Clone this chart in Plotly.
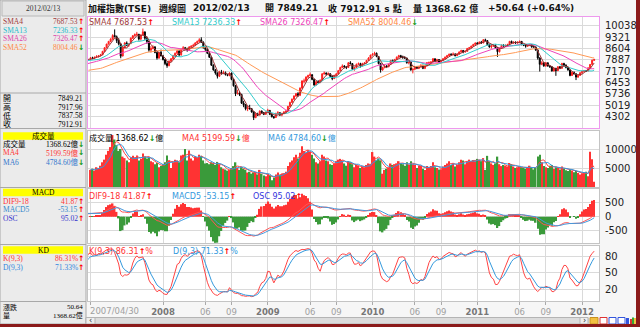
import numpy as np
import pandas as pd
import plotly.graph_objects as go

W, H = 640, 327

# ---------------- data (weekly TAIEX, 2007/04/30 .. 2012/02/13) ----------------
# 52 hidden warm-up weekly closes (2006/05/01 .. 2007/04/23) for the moving averages
prior_closes = [7300, 7450, 7100, 6900, 6850, 6750, 6400, 6500, 6700, 6850,
                6600, 6350, 6450, 6400, 6500, 6700, 6650, 6650, 6750, 6800,
                6850, 6900, 6950, 7000, 7050, 7200, 7250, 7250, 7150, 7200,
                7250, 7400, 7550, 7700, 7820, 7800, 7700, 7800, 7750, 7800,
                7900, 7950, 7900, 7500, 7550, 7700, 7750, 7900, 7950, 7900,
                7850, 7950]

opens = [7950, 8020, 7975, 8055, 8110, 8150, 8200, 8420, 8650, 8885,
         9050, 9195, 9425, 9340, 9100, 8890, 8130, 8650, 8950, 8800,
         8905, 9250, 9400, 9480, 9500, 9200, 9455, 9650, 9250, 9050,
         8500, 8600, 8700, 8350, 8000, 8360, 8130, 7900, 7650, 7520,
         7800, 7950, 8150, 8300, 8450, 8200, 8550, 8650, 8600, 8500,
         8700, 8750, 8800, 8950, 9050, 9150, 9000, 8650, 8550, 8300,
         8050, 7550, 7250, 7050, 6850, 7100, 7050, 7080, 6950, 6900,
         7050, 6650, 6250, 5750, 5800, 5700, 5150, 5050, 4800, 4850,
         4800, 4600, 4250, 4460, 4400, 4650, 4550, 4450, 4590, 4700,
         4450, 4300, 4250, 4500, 4550, 4400, 4500, 4600, 4650, 4950,
         5200, 5400, 5600, 5750, 5650, 6100, 6540, 6550, 6800, 6900,
         6950, 6650, 6300, 6500, 6450, 6600, 7000, 7050, 6980, 7000,
         6850, 6700, 6900, 7000, 7200, 7400, 7500, 7450, 7400, 7700,
         7650, 7300, 7400, 7600, 7650, 7500, 7650, 7700, 7850, 8000,
         8190, 8250, 8300, 8100, 7650, 7250, 7400, 7500, 7450, 7600,
         7850, 7800, 7900, 8050, 8150, 8060, 8050, 8000, 7700, 7750,
         7250, 7300, 7450, 7350, 7450, 7550, 7350, 7500, 7690, 7700,
         7750, 7950, 7800, 7900, 7750, 7850, 7950, 8050, 8150, 8240,
         8200, 8250, 8150, 8250, 8380, 8480, 8400, 8420, 8600, 8650,
         8750, 8850, 8950, 8900, 9000, 8950, 9150, 9100, 8850, 8700,
         8750, 8800, 8650, 8400, 8600, 8800, 8750, 8800, 8850, 9050,
         8950, 9000, 8950, 9000, 9050, 8850, 8800, 8750, 8800, 8850,
         8720, 8700, 8500, 8000, 7600, 7700, 7500, 7700, 7500, 7450,
         7180, 7350, 7200, 7450, 7350, 7650, 7550, 7400, 7250, 6900,
         7100, 7000, 6800, 6900, 7070, 7150, 7200, 7180, 7380, 7595,
         7849.21]

highs = [8060, 8080, 8090, 8170, 8180, 8260, 8450, 8680, 8900, 9080,
         9250, 9500, 9807, 9420, 9250, 8950, 8700, 9000, 9050, 8950,
         9300, 9450, 9550, 9650, 9520, 9500, 9859, 9660, 9350, 9100,
         8750, 8800, 8750, 8400, 8400, 8530, 8200, 7950, 7800, 7850,
         8000, 8200, 8350, 8500, 8480, 8600, 8750, 8700, 8650, 8750,
         8800, 8900, 9000, 9100, 9250, 9309, 9050, 8700, 8600, 8350,
         8100, 7600, 7300, 7100, 7200, 7250, 7200, 7150, 7000, 7100,
         7080, 6700, 6300, 6000, 5900, 5750, 5300, 5100, 5000, 5050,
         4850, 4650, 4550, 4550, 4700, 4700, 4600, 4620, 4800, 4720,
         4500, 4350, 4550, 4650, 4580, 4550, 4650, 4700, 4980, 5250,
         5450, 5650, 5800, 5850, 6150, 6600, 6700, 6850, 6950, 7084,
         6970, 6700, 6550, 6600, 6650, 7050, 7150, 7100, 7100, 7050,
         6900, 6950, 7050, 7250, 7450, 7600, 7550, 7500, 7750, 7800,
         7680, 7450, 7650, 7720, 7700, 7700, 7750, 7880, 8050, 8200,
         8300, 8395, 8350, 8120, 7700, 7450, 7550, 7550, 7650, 7880,
         7900, 7950, 8100, 8200, 8200, 8150, 8100, 8020, 7850, 7760,
         7350, 7500, 7480, 7500, 7600, 7570, 7550, 7750, 7780, 7800,
         8000, 7980, 7950, 7920, 7900, 8000, 8100, 8200, 8280, 8300,
         8350, 8300, 8300, 8420, 8520, 8500, 8480, 8640, 8700, 8780,
         8900, 8980, 9000, 9050, 9080, 9200, 9220, 9120, 8900, 8850,
         8880, 8850, 8700, 8650, 8850, 8870, 8850, 8900, 9080, 9100,
         9050, 9050, 9050, 9100, 9070, 8900, 8850, 8850, 8900, 8870,
         8780, 8720, 8550, 8050, 7800, 7750, 7750, 7720, 7550, 7480,
         7400, 7380, 7480, 7500, 7700, 7700, 7600, 7450, 7280, 7150,
         7150, 7050, 6950, 7100, 7200, 7250, 7250, 7400, 7620, 7900,
         7917.96]

lows = [7900, 7940, 7950, 8020, 8030, 8100, 8180, 8400, 8620, 8850,
        9000, 9150, 9300, 8950, 8800, 7987, 8100, 8600, 8750, 8700,
        8880, 9200, 9350, 9400, 9100, 9100, 9420, 9150, 8900, 8400,
        8350, 8550, 8300, 7900, 7950, 8100, 7850, 7550, 7384, 7480,
        7750, 7900, 8100, 8250, 8100, 8150, 8500, 8500, 8400, 8450,
        8600, 8700, 8750, 8900, 9000, 8950, 8600, 8450, 8250, 8000,
        7500, 7200, 6950, 6708, 6800, 6950, 6980, 6900, 6850, 6850,
        6600, 6200, 5600, 5700, 5600, 5100, 4900, 4700, 4650, 4750,
        4550, 4089, 4200, 4350, 4380, 4500, 4400, 4420, 4580, 4400,
        4250, 4164, 4240, 4450, 4350, 4328, 4450, 4500, 4640, 4920,
        5180, 5380, 5550, 5550, 5600, 6080, 6400, 6500, 6700, 6850,
        6600, 6250, 6280, 6400, 6420, 6580, 6950, 6900, 6900, 6800,
        6600, 6680, 6850, 6980, 7180, 7380, 7350, 7300, 7380, 7600,
        7250, 7200, 7380, 7550, 7400, 7480, 7600, 7680, 7830, 7980,
        8150, 8200, 8050, 7600, 7080, 7200, 7350, 7400, 7420, 7580,
        7750, 7750, 7880, 8020, 8000, 7950, 7950, 7650, 7600, 7200,
        7032, 7250, 7300, 7300, 7420, 7300, 7300, 7480, 7600, 7650,
        7720, 7750, 7750, 7700, 7700, 7820, 7920, 8020, 8120, 8150,
        8180, 8100, 8120, 8220, 8350, 8300, 8330, 8400, 8560, 8620,
        8700, 8820, 8850, 8880, 8900, 8930, 9050, 8800, 8650, 8600,
        8700, 8600, 8070, 8350, 8580, 8700, 8700, 8750, 8830, 8900,
        8900, 8900, 8900, 8950, 8800, 8750, 8650, 8700, 8750, 8650,
        8650, 8450, 7900, 7148, 7550, 7450, 7450, 7450, 7380, 7150,
        7150, 6877, 7180, 7300, 7330, 7500, 7350, 7200, 6850, 6880,
        6950, 6609, 6750, 6880, 7000, 7100, 7120, 7170, 7360, 7580,
        7837.58]

closes = [8015, 7980, 8050, 8110, 8145, 8200, 8420, 8650, 8880, 9050,
          9190, 9420, 9350, 9100, 8900, 8120, 8650, 8950, 8800, 8900,
          9250, 9400, 9480, 9500, 9200, 9450, 9650, 9250, 9050, 8500,
          8600, 8700, 8350, 8000, 8350, 8130, 7900, 7650, 7520, 7800,
          7950, 8150, 8300, 8450, 8200, 8550, 8650, 8600, 8500, 8700,
          8750, 8800, 8950, 9050, 9150, 9000, 8650, 8550, 8300, 8050,
          7550, 7250, 7050, 6850, 7100, 7050, 7080, 6950, 6900, 7050,
          6650, 6250, 5750, 5800, 5700, 5150, 5050, 4800, 4850, 4800,
          4600, 4250, 4460, 4400, 4650, 4550, 4450, 4590, 4700, 4450,
          4300, 4250, 4500, 4550, 4400, 4500, 4600, 4650, 4950, 5200,
          5400, 5600, 5750, 5650, 6100, 6550, 6550, 6800, 6900, 6950,
          6650, 6300, 6500, 6450, 6600, 7000, 7050, 7000, 7000, 6850,
          6700, 6900, 7000, 7200, 7400, 7500, 7450, 7400, 7700, 7650,
          7300, 7400, 7600, 7650, 7500, 7650, 7700, 7850, 8000, 8190,
          8250, 8300, 8100, 7650, 7250, 7400, 7500, 7450, 7600, 7850,
          7800, 7900, 8050, 8150, 8050, 8050, 8000, 7700, 7750, 7250,
          7300, 7450, 7350, 7450, 7550, 7350, 7500, 7700, 7700, 7750,
          7950, 7800, 7900, 7750, 7850, 7950, 8050, 8150, 8240, 8200,
          8250, 8150, 8250, 8380, 8480, 8400, 8420, 8600, 8650, 8750,
          8850, 8950, 8900, 9000, 8950, 9150, 9100, 8850, 8700, 8750,
          8800, 8650, 8400, 8600, 8800, 8750, 8800, 8850, 9050, 8950,
          9000, 8950, 9000, 9050, 8850, 8800, 8750, 8800, 8850, 8700,
          8700, 8500, 8000, 7600, 7700, 7500, 7700, 7500, 7450, 7180,
          7350, 7200, 7450, 7350, 7650, 7550, 7400, 7250, 6900, 7100,
          7000, 6800, 6900, 7070, 7150, 7200, 7180, 7380, 7595, 7862.27,
          7912.91]

volumes = [4500, 4800, 4300, 5200, 4900, 5600, 6500, 7200, 8500, 9500,
           10500, 13700, 12500, 11000, 9500, 10000, 8000, 7600, 7000, 6500,
           7800, 8200, 7800, 8300, 7000, 7400, 8800, 8000, 7500, 7800,
           6800, 6500, 6000, 6300, 5200, 5500, 6000, 6500, 8300, 7000,
           5000, 6500, 7200, 7000, 6500, 8300, 8500, 10000, 7000, 9600,
           7500, 7000, 8000, 7800, 8500, 8200, 7000, 6200, 6300, 6000,
           6500, 6200, 5800, 6600, 6000, 5200, 4800, 4600, 4300, 4500,
           5000, 5500, 6500, 5000, 4500, 5300, 4800, 4500, 3800, 4000,
           3500, 3800, 4000, 3300, 4500, 3500, 3000, 2800, 3500, 3000,
           1800, 2500, 3300, 3800, 3200, 3500, 3600, 4000, 5500, 6500,
           7000, 7800, 8500, 7500, 9000, 10700, 9500, 9000, 9700, 9200,
           8500, 7500, 6500, 6200, 6800, 8500, 8000, 7000, 6800, 6000,
           5800, 6200, 6800, 7200, 7400, 7000, 6200, 5600, 6800, 6500,
           6000, 5200, 5800, 5600, 5000, 5400, 5200, 5800, 6200, 6000,
           9200, 8000, 7000, 7500, 7000, 3500, 4500, 4800, 5200, 6200,
           5800, 6000, 6200, 6800, 6200, 6000, 5600, 6500, 5800, 6800,
           6000, 5800, 5000, 5500, 5600, 4800, 4500, 5500, 5200, 5500,
           6500, 5200, 5000, 4600, 4700, 5400, 5800, 6200, 6800, 5800,
           6200, 5400, 5800, 6500, 7200, 7000, 6000, 6800, 7200, 6800,
           7100, 6800, 7400, 7200, 6800, 7600, 4500, 8200, 6800, 6200,
           5800, 6200, 8000, 6000, 5500, 5800, 5600, 5400, 6300, 6000,
           5400, 5000, 5200, 5400, 5200, 5000, 4800, 5200, 5600, 5000,
           4600, 5200, 8000, 8500, 6500, 5500, 5200, 5000, 5600, 5800,
           4800, 5200, 5000, 4600, 5400, 4800, 4400, 4200, 4600, 4300,
           3900, 4200, 3700, 3300, 3600, 3900, 4000, 2830, 9300, 7300,
           1368.62]

tick_idx = [0, 36, 57, 70, 88, 109, 122, 140, 161, 174, 192, 213, 226, 244]
tick_lbl = ["", "2008", "06", "09", "2009", "06", "09", "2010", "06", "09",
            "2011", "06", "09", "2012"]
first_lbl = "2007/04/30"
price_ticks = [10038, 9321, 8604, 7887, 7170, 6453, 5736, 5019, 4302]
vol_ticks = [10000, 5000]
macd_ticks = [500, 0, -500]
kd_ticks = [80, 50, 20]

assert len(opens) == len(highs) == len(lows) == len(closes) == len(volumes) == 251
assert len(prior_closes) == 52

# ---------------- indicators ----------------
n_prior = len(prior_closes)
x_vis = np.arange(len(closes))
x_all = np.arange(-n_prior, len(closes))
c_all = pd.Series(prior_closes + closes, dtype=float)
h_all = pd.Series(prior_closes + highs, dtype=float)
l_all = pd.Series(prior_closes + lows, dtype=float)

sma = {n: c_all.rolling(n).mean() for n in (4, 13, 26, 52)}
dif = c_all.ewm(span=9, adjust=False).mean() - c_all.ewm(span=18, adjust=False).mean()
sig = dif.ewm(span=5, adjust=False).mean()
osc = (dif - sig)

hh = h_all.rolling(9, min_periods=1).max()
ll = l_all.rolling(9, min_periods=1).min()
rsv = ((c_all - ll) / (hh - ll).replace(0, np.nan) * 100).fillna(50)
K, D = [], []
k = d = 50.0
for r in rsv:
    k = k * 2 / 3 + r / 3
    d = d * 2 / 3 + k / 3
    K.append(k)
    D.append(d)

vol = pd.Series(volumes, dtype=float)
vma4 = vol.rolling(4, min_periods=1).mean()
vma6 = vol.rolling(6, min_periods=1).mean()

up = [c >= o for o, c in zip(opens, closes)]
RED, GREEN = "#FF3333", "#3A9A3A"
vol_colors = [RED if u else GREEN for u in up]
osc_vis = osc.values[n_prior:]
osc_colors = [RED if v >= 0 else GREEN for v in osc_vis]

# ---------------- helpers ----------------
def px(x):
    return x / W

def py(y):
    return 1 - y / H

SANS = "DejaVu Sans, Noto Sans CJK TC"
SERIF = "Liberation Serif, Noto Sans CJK TC"

X0, X1 = px(88), px(599)
DOM = {
    "price": [py(128), py(17)],
    "vol": [py(187), py(131)],
    "macd": [py(243), py(189)],
    "kd": [py(301), py(246)],
}
XR = [-1.24, 252.4]

fig = go.Figure()

# price
fig.add_trace(go.Candlestick(
    x=x_vis, open=opens, high=highs, low=lows, close=closes,
    increasing=dict(line=dict(color="#FF2020", width=1), fillcolor="#FF2020"),
    decreasing=dict(line=dict(color="#000000", width=1), fillcolor="#000000"),
    whiskerwidth=0, xaxis="x", yaxis="y", hoverinfo="skip", showlegend=False))
sma_colors = {4: "#993333", 13: "#33CCCC", 26: "#EE44BB", 52: "#FF9955"}
for n in (52, 26, 13, 4):
    fig.add_trace(go.Scatter(x=x_all, y=sma[n], mode="lines",
                             line=dict(color=sma_colors[n], width=1),
                             xaxis="x", yaxis="y", showlegend=False, hoverinfo="skip"))

# volume
fig.add_trace(go.Bar(x=x_vis, y=volumes, marker=dict(color=vol_colors, line=dict(width=0)),
                     xaxis="x2", yaxis="y2", showlegend=False, hoverinfo="skip"))
fig.add_trace(go.Scatter(x=x_vis, y=vma4, mode="lines", line=dict(color="#FF4444", width=1),
                         xaxis="x2", yaxis="y2", showlegend=False, hoverinfo="skip"))
fig.add_trace(go.Scatter(x=x_vis, y=vma6, mode="lines", line=dict(color="#3399DD", width=1),
                         xaxis="x2", yaxis="y2", showlegend=False, hoverinfo="skip"))

# MACD
fig.add_trace(go.Bar(x=x_vis, y=osc_vis, marker=dict(color=osc_colors, line=dict(width=0)),
                     xaxis="x3", yaxis="y3", showlegend=False, hoverinfo="skip"))
fig.add_trace(go.Scatter(x=x_all, y=dif, mode="lines", line=dict(color="#FF5555", width=1),
                         xaxis="x3", yaxis="y5", showlegend=False, hoverinfo="skip"))
fig.add_trace(go.Scatter(x=x_all, y=sig, mode="lines", line=dict(color="#4499DD", width=1),
                         xaxis="x3", yaxis="y5", showlegend=False, hoverinfo="skip"))

# KD
fig.add_trace(go.Scatter(x=x_all, y=K, mode="lines", line=dict(color="#FF4444", width=1),
                         xaxis="x4", yaxis="y4", showlegend=False, hoverinfo="skip"))
fig.add_trace(go.Scatter(x=x_all, y=D, mode="lines", line=dict(color="#3399DD", width=1),
                         xaxis="x4", yaxis="y4", showlegend=False, hoverinfo="skip"))

GRID = "#DADADA"
PANEL_LINE = "#C4C4C4"
PINK = "#EE99EE"
tickfont = dict(family="DejaVu Sans", size=10, color="#222222")

def xax(anchor, line, labels=False):
    d = dict(domain=[X0, X1], range=XR, anchor=anchor, tickvals=tick_idx,
             showgrid=True, gridcolor=GRID, gridwidth=1, zeroline=False,
             showline=True, mirror=True, linecolor=line, linewidth=1,
             showticklabels=labels, ticks="outside" if labels else "",
             ticklen=3, tickcolor="#AAAAAA", fixedrange=True)
    if labels:
        txt = []
        for t in tick_lbl:
            if len(t) == 4:
                txt.append('<span style="color:#777777"><b>%s</b></span>' % t)
            else:
                txt.append(t)
        d.update(ticktext=txt, tickfont=dict(family="DejaVu Sans", size=8.5, color="#A0A0A0"),
                 ticklabelstandoff=0)
    return d

def yax(anchor, dom, rng, ticks, line, grid=True, labels=True):
    return dict(domain=dom, range=rng, anchor=anchor, side="right",
                tickvals=ticks, ticktext=[str(t) for t in ticks],
                showgrid=grid, gridcolor=GRID, zeroline=False,
                showline=True, mirror=True, linecolor=line, linewidth=1,
                showticklabels=labels, ticks="", tickfont=tickfont,
                ticklabelstandoff=3, fixedrange=True)

osc_k = 6.5
fig.update_layout(
    width=W, height=H, margin=dict(l=0, r=0, t=0, b=0), autosize=False,
    paper_bgcolor="#F6F6F6", plot_bgcolor="#FFFFFF",
    bargap=0.25, showlegend=False,
    xaxis=dict(xax("y", PINK), rangeslider=dict(visible=False)),
    xaxis2=dict(xax("y2", PANEL_LINE), matches="x"),
    xaxis3=dict(xax("y3", PANEL_LINE), matches="x"),
    xaxis4=dict(xax("y4", PANEL_LINE, labels=True), matches="x"),
    yaxis=yax("x", DOM["price"], [3587, 10588], price_ticks, PINK),
    yaxis2=yax("x2", DOM["vol"], [0, 14737], vol_ticks, PANEL_LINE),
    yaxis3=yax("x3", DOM["macd"], [-939 / osc_k, 989 / osc_k], [], PANEL_LINE, grid=False, labels=False),
    yaxis5=dict(yax("x3", DOM["macd"], [-939, 989], macd_ticks, PANEL_LINE), overlaying="y3"),
    yaxis4=yax("x4", DOM["kd"], [-2.5, 100.6], kd_ticks, PANEL_LINE),
)

shapes = []
ann = []

def rect(x0, y0, x1, y1, fill, line=None, lw=1, layer="below"):
    shapes.append(dict(type="rect", xref="paper", yref="paper",
                       x0=px(x0), x1=px(x1), y0=py(y1), y1=py(y0),
                       fillcolor=fill, line=dict(color=line or fill, width=lw if line else 0),
                       layer=layer))

def hline(x0, x1, y, color, lw=1):
    shapes.append(dict(type="line", xref="paper", yref="paper",
                       x0=px(x0), x1=px(x1), y0=py(y), y1=py(y),
                       line=dict(color=color, width=lw)))

def text(x, y, s, color="#000000", size=9, anchor="left", family=SANS):
    ann.append(dict(xref="paper", yref="paper", x=px(x), y=py(y), text=s,
                    showarrow=False, xanchor=anchor, yanchor="middle",
                    font=dict(family=family, size=size, color=color),
                    borderpad=0, borderwidth=0))

UP = '<span style="color:#FF0000"><b>↑</b></span>'
DN = '<span style="color:#119911"><b>↓</b></span>'

# ---- left info panel ----
rect(0, 0, 86, 324, "#EBEBEB", "#A8A8A8")
rect(2, 1, 84, 16, "#E4E4E4", "#B8B8B8")
for yy in (93, 128.5, 187.5, 244.5, 301.5):
    hline(0, 86, yy, "#A8A8A8")
text(43, 8.5, "2012/02/13", "#333333", 7.5, "center", SERIF)

LS = 7.5
rows_sma = [("SMA4", "7687.53", "#A03A3A", UP, 22), ("SMA13", "7236.33", "#22BBCC", UP, 30.5),
            ("SMA26", "7326.47", "#DD44AA", UP, 39), ("SMA52", "8004.46", "#FF8844", DN, 47.5)]
for lab, val, col, arr, yy in rows_sma:
    text(3, yy, lab, col, LS, "left", SERIF)
    text(78, yy, val, col, LS, "right", SERIF)
    text(78, yy, arr, col, LS, "left", SANS)

for lab, val, yy in [("開", "7849.21", 98.3), ("高", "7917.96", 107.3),
                     ("低", "7837.58", 116), ("收", "7912.91", 124.3)]:
    text(3, yy, lab, "#000000", 8, "left", SERIF)
    text(83, yy, val, "#000000", LS, "right", SERIF)

for lab, yy in [("成交量", 136), ("MACD", 192.5), ("KD", 250)]:
    rect(3, yy - 3.8, 83, yy + 3.8, "#FFFF00")
    text(43, yy, lab, "#000000", 7.5, "center", SERIF)

rows = [("成交量", "1368.62億", "#000000", DN, 144), ("MA4", "5199.59億", "#FF3333", DN, 152.7),
        ("MA6", "4784.60億", "#3377CC", DN, 162),
        ("DIF9-18", "41.87", "#FF3333", UP, 201.3), ("MACD5", "-53.15", "#3388CC", UP, 209.5),
        ("OSC", "95.02", "#3333CC", UP, 218.7),
        ("K(9,3)", "86.31%", "#FF3333", UP, 258), ("D(9,3)", "71.33%", "#3388DD", UP, 267.7)]
for lab, val, col, arr, yy in rows:
    text(3, yy, lab, col, LS, "left", SERIF)
    text(78, yy, val, col, LS, "right", SERIF)
    text(78, yy, arr, col, LS, "left", SANS)

text(3, 307, "漲跌", "#000000", 7, "left", SERIF)
text(83, 307, "50.64", "#000000", 7, "right", SERIF)
text(3, 315.5, "量", "#000000", 7, "left", SERIF)
text(83, 315.5, "1368.62億", "#000000", 7, "right", SERIF)

# ---- title ----
TS = 9
for x0, s in [(88, "加權指數(TSE)"), (159, "週線圖"), (193, "2012/02/13"),
              (265, "開 7849.21"), (328, "收 7912.91 s 點"), (413, "量 1368.62 億"),
              (488, "+50.64 (+0.64%)")]:
    text(x0, 8.5, "<b>%s</b>" % s, "#111111", TS, "left", SANS)

# ---- in-panel legends ----
GS = 8
for x0, s in [(89, '<span style="color:#A03A3A">SMA4 7687.53</span>' + UP),
              (172, '<span style="color:#33CCCC">SMA13 7236.33</span>' + UP),
              (260, '<span style="color:#EE44BB">SMA26 7326.47</span>' + UP),
              (348, '<span style="color:#FF8844">SMA52 8004.46</span>' + DN)]:
    text(x0, 22.5, s, "#000000", GS)
for x0, s in [(89, '<span style="color:#000000">成交量 1368.62</span>' + DN + '億'),
              (182, '<span style="color:#FF3333">MA4 5199.59</span>' + DN + '<span style="color:#FF3333">億</span>'),
              (268, '<span style="color:#3399DD">MA6 4784.60</span>' + DN + '<span style="color:#3399DD">億</span>')]:
    text(x0, 137.5, s, "#000000", GS)
for x0, s in [(89, '<span style="color:#FF3333">DIF9-18 41.87</span>' + UP),
              (172, '<span style="color:#3399DD">MACD5 -53.15</span>' + UP),
              (253, '<span style="color:#3333DD">OSC 95.02</span>' + UP)]:
    text(x0, 196, s, "#000000", GS)
for x0, s in [(89, '<span style="color:#FF3333">K(9,3) 86.31</span>' + UP + '<span style="color:#FF3333">%</span>'),
              (173, '<span style="color:#3399DD">D(9,3) 71.33</span>' + UP + '<span style="color:#3399DD">%</span>')]:
    text(x0, 251, s, "#000000", GS)

# first x label, left aligned at the first bar
ann.append(dict(xref="x4", yref="paper", x=0, y=py(310.5), text=first_lbl, showarrow=False,
                xanchor="left", yanchor="middle", xshift=-3,
                font=dict(family="DejaVu Sans", size=8.5, color="#A0A0A0")))

# ---- scrollbar and icons ----
rect(86, 317.5, 588, 324, "#DCDCDC", "#B4B4B4")
rect(86, 317.5, 95, 324, "#EEEEEE", "#B4B4B4")
rect(580, 317.5, 588, 324, "#EEEEEE", "#B4B4B4")
text(90.5, 320.7, "‹", "#333333", 8, "center")
text(584, 320.7, "›", "#333333", 8, "center")
rect(590, 317.5, 598, 324, "#F2C040", "#C89020")
rect(600, 317.5, 607, 324, "#FFFFFF", "#DD3333")
rect(609, 317.5, 616, 324, "#FFFFFF", "#3355DD")
rect(618, 317.5, 625, 324, "#FFFFFF", "#3355DD")
rect(626, 318, 629, 324, "#3355DD")
rect(630, 319, 632, 324, "#DD3333")
rect(632, 317.5, 634, 324, "#33AA33")
rect(634, 318, 636, 324, "#F2C040")

# ---- outer dark red frame ----
rect(636, 0, 640, 327, "#8B1A1A", layer="above")
rect(0, 324, 640, 327, "#8B1A1A", layer="above")

fig.update_layout(shapes=shapes, annotations=ann)
fig.write_html("out.html")
